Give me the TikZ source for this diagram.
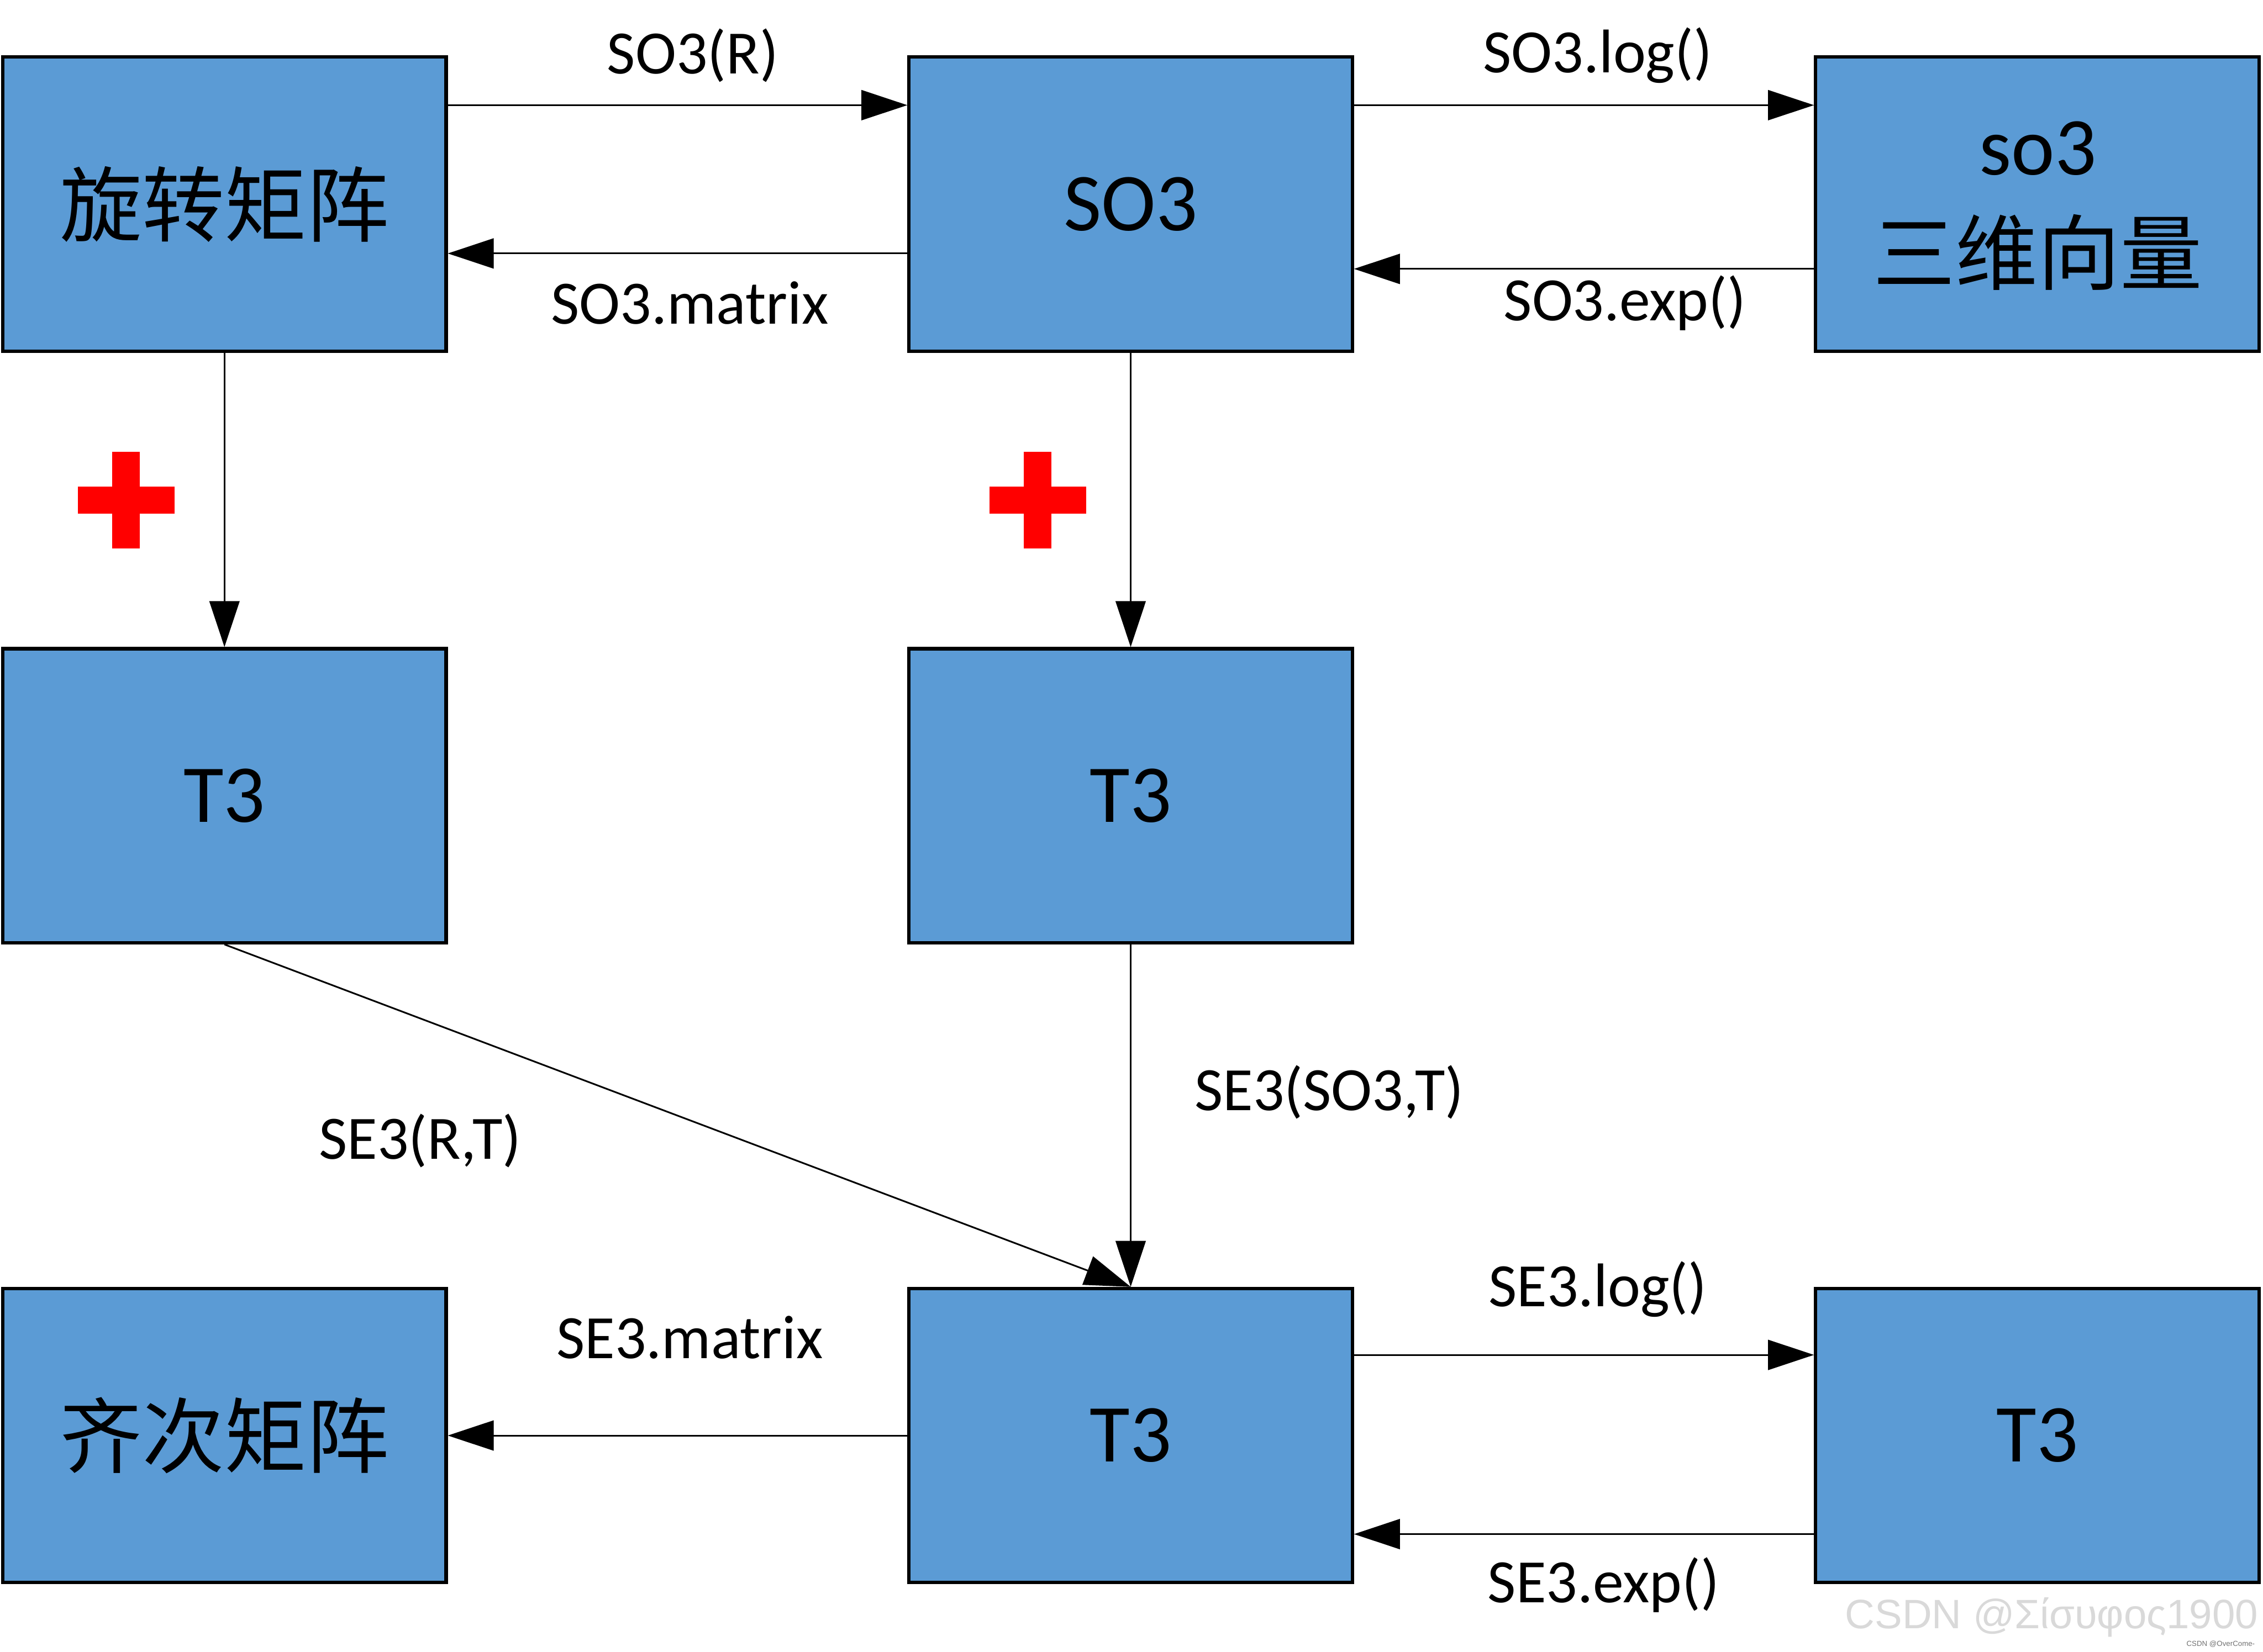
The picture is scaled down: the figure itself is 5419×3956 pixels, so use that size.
\documentclass[tikz,border=0pt]{standalone}
\usepackage{fontspec}
\setmainfont{Carlito}
\newfontfamily\cjk{Noto Sans CJK SC}
\newfontfamily\wmfont{Liberation Sans}
\usetikzlibrary{arrows.meta}
\definecolor{boxblue}{HTML}{5B9BD5}
\begin{document}
\begin{tikzpicture}[x=0.01cm,y=-0.01cm,
  box/.style={draw=black, line width=0.08cm, fill=boxblue, minimum width=10.61cm, minimum height=7.04cm, inner sep=0pt, font=\fontsize{56}{60}\selectfont},
  boxtxt/.style={inner sep=0pt, font=\fontsize{56}{60}\selectfont},
  lbl/.style={inner sep=0pt, font=\fontsize{42}{46}\selectfont},
  arr/.style={line width=0.04cm, -{Triangle[length=1.1cm,width=0.72cm]}},
  redcross/.style={fill=red, draw=none}]
\useasboundingbox (0,0) rectangle (5419,3956);
\fill[white] (0,0) rectangle (5419,3956);
% boxes
\node[box] (rot) at (537.5,489) {\cjk 旋转矩阵};
\node[box] (so) at (2707.5,489) {SO3};
\node[box] (lie) at (4878.5,489) {};
\node[boxtxt] (lieA) at (4880,356) {so3};
\node[boxtxt] (lieB) at (4880,605) {\cjk 三维向量};
\node[box] (ta) at (537.5,1906) {T3};
\node[box] (tb) at (2707.5,1906) {T3};
\node[box] (hom) at (537.5,3438.5) {\cjk 齐次矩阵};
\node[box] (tc) at (2707.5,3438.5) {T3};
\node[box] (td) at (4878.5,3438.5) {T3};
% arrows
\draw[arr] ([yshift=-1.19cm]rot.north east) -- ([yshift=-1.19cm]so.north west);
\draw[arr] ([yshift=-4.74cm]so.north west) -- ([yshift=-4.74cm]rot.north east);
\draw[arr] ([yshift=-1.19cm]so.north east) -- ([yshift=-1.19cm]lie.north west);
\draw[arr] ([yshift=-5.11cm]lie.north west) -- ([yshift=-5.11cm]so.north east);
\draw[arr] (rot.south) -- (ta.north);
\draw[arr] (so.south) -- (tb.north);
\draw[arr] (tb.south) -- (tc.north);
\draw[arr] (ta.south) -- (tc.north);
\draw[arr] (tc.west) -- (hom.east);
\draw[arr] ([yshift=-1.63cm]tc.north east) -- ([yshift=-1.63cm]td.north west);
\draw[arr] ([yshift=-5.92cm]td.north west) -- ([yshift=-5.92cm]tc.north east);
% labels
\node[lbl] (l1) at (1659,133) {SO3(R)};
\node[lbl] (l2) at (1652,726) {SO3.matrix};
\node[lbl] (l3) at (3826,133) {SO3.log()};
\node[lbl] (l4) at (3891,726) {SO3.exp()};
\node[lbl] (l5) at (3183,2616) {SE3(SO3,T)};
\node[lbl] (l6) at (1006,2732) {SE3(R,T)};
\node[lbl] (l7) at (1652,3204) {SE3.matrix};
\node[lbl] (l8) at (3826,3088) {SE3.log()};
\node[lbl] (l9) at (3840,3797) {SE3.exp()};
% red crosses
\fill[redcross] (186,1165) rectangle (418,1231);
\fill[redcross] (269,1082) rectangle (335,1314);
\fill[redcross] (2369,1165) rectangle (2601,1231);
\fill[redcross] (2452,1082) rectangle (2518,1314);
% watermark
\node[anchor=east, inner sep=0pt, text=black!15, font=\wmfont\fontsize{28}{30}\selectfont] (wm) at (5408,3874) {CSDN @Σίσυφος1900};
\node[anchor=east, inner sep=0pt, text=black!55, font=\wmfont\fontsize{5}{6}\selectfont] (wm2) at (5400,3938) {CSDN @OverCome-};
\end{tikzpicture}
\end{document}
